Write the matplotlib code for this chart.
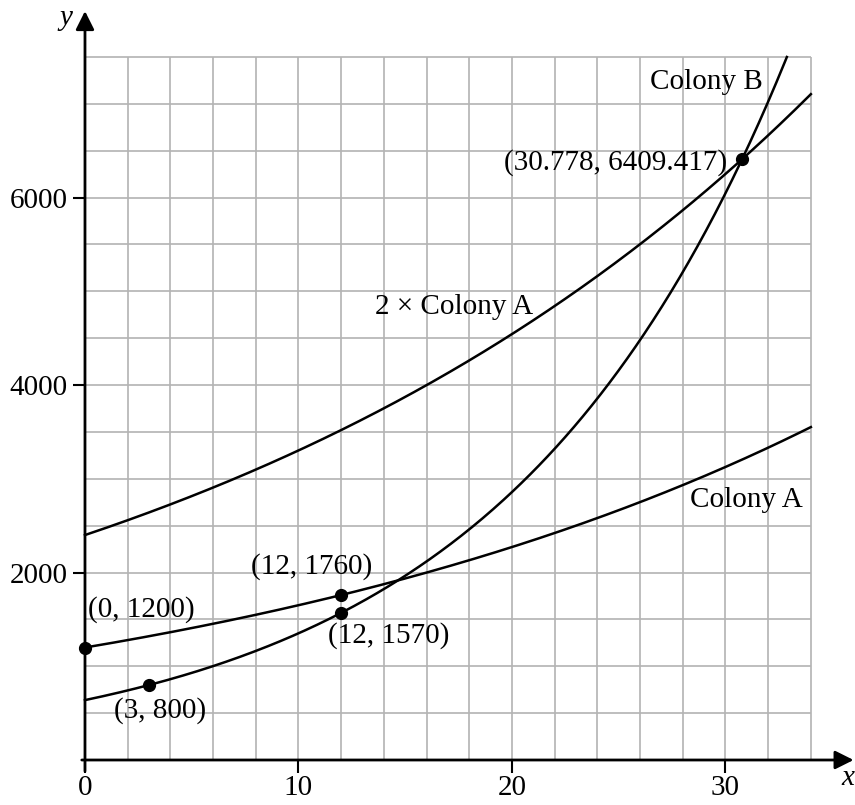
import matplotlib
matplotlib.use("Agg")
import matplotlib.pyplot as plt
import numpy as np

# labelled points
colony_a_pts_x = [0, 12]
colony_a_pts_y = [1200, 1760]
colony_b_pts_x = [3, 12]
colony_b_pts_y = [800, 1570]
meet_x = 30.778
meet_y = 6409.417

x_ticks = [0, 10, 20, 30]
y_ticks = [2000, 4000, 6000]

plt.rcParams['font.family'] = ['Liberation Serif', 'DejaVu Serif']
FS = 21

# exponential models through the labelled points
k_a = np.log(colony_a_pts_y[1] / colony_a_pts_y[0]) / (colony_a_pts_x[1] - colony_a_pts_x[0])
k_b = np.log(colony_b_pts_y[1] / colony_b_pts_y[0]) / (colony_b_pts_x[1] - colony_b_pts_x[0])
b0 = colony_b_pts_y[0] * np.exp(-k_b * colony_b_pts_x[0])

x = np.linspace(0, 34, 400)
colony_a = colony_a_pts_y[0] * np.exp(k_a * x)
colony_2a = 2 * colony_a
xb_end = np.log(7500 / b0) / k_b
xb = np.linspace(0, xb_end, 400)
colony_b = b0 * np.exp(k_b * xb)

fig = plt.figure(figsize=(8.55, 8.05), dpi=100)
ax = fig.add_axes([0.0994, 0.0559, 0.849, 0.8733])
ax.set_xlim(0, 34)
ax.set_ylim(0, 7500)
for s in ax.spines.values():
    s.set_visible(False)

# grid
grid_c = '#b3b3b3'
ax.vlines(np.arange(2, 35, 2), 0, 7500, color=grid_c, lw=1.2, zorder=1, clip_on=False)
ax.hlines(np.arange(500, 7501, 500), 0, 34, color=grid_c, lw=1.2, zorder=1, clip_on=False)

# axes with arrows
arrow = dict(arrowstyle='-|>', lw=2, color='black', mutation_scale=28, shrinkA=0, shrinkB=0)
ax.annotate('', xy=(36, 0), xytext=(-0.15, 0), arrowprops=arrow, annotation_clip=False, zorder=3)
ax.annotate('', xy=(0, 7990), xytext=(0, -120), arrowprops=arrow, annotation_clip=False, zorder=3)
ax.text(-0.9, 7916, 'y', fontsize=FS, style='italic', ha='center', va='center')
ax.text(35.75, -190, 'x', fontsize=FS, style='italic', ha='center', va='center')

ax.set_xticks(x_ticks)
ax.set_xticklabels([str(t) for t in x_ticks])
ax.set_yticks(y_ticks)
ax.set_yticklabels([str(t) for t in y_ticks])
ax.tick_params(axis='both', direction='out', length=9, width=1.5, labelsize=FS, colors='black')
ax.tick_params(axis='x', pad=2)
ax.tick_params(axis='y', pad=3.5)

# curves
ax.plot(x, colony_a, color='black', lw=1.8, zorder=4, clip_on=False)
ax.plot(x, colony_2a, color='black', lw=1.8, zorder=4, clip_on=False)
ax.plot(xb, colony_b, color='black', lw=1.8, zorder=4, clip_on=False)

# points
ax.plot(colony_a_pts_x, colony_a_pts_y, 'o', color='black', ms=8.5, zorder=5, clip_on=False)
ax.plot(colony_b_pts_x, colony_b_pts_y, 'o', color='black', ms=8.5, zorder=5, clip_on=False)
ax.plot([meet_x], [meet_y], 'o', color='black', ms=8.5, zorder=5, clip_on=False)

# labels
ax.text(0.15, 1600, '(0, 1200)', fontsize=FS, ha='left', va='center')
ax.text(3.5, 533, '(3, 800)', fontsize=FS, ha='center', va='center')
ax.text(10.6, 2060, '(12, 1760)', fontsize=FS, ha='center', va='center')
ax.text(11.4, 1333, '(12, 1570)', fontsize=FS, ha='left', va='center')
ax.text(30.1, 6370, f'({meet_x}, {meet_y})', fontsize=FS, ha='right', va='center')
ax.text(31.76, 7233, 'Colony B', fontsize=FS, ha='right', va='center')
ax.text(33.6, 2774, 'Colony A', fontsize=FS, ha='right', va='center')
ax.text(21.0, 4833, '2 × Colony A', fontsize=FS, ha='right', va='center')

fig.savefig('out.png', dpi=100)
